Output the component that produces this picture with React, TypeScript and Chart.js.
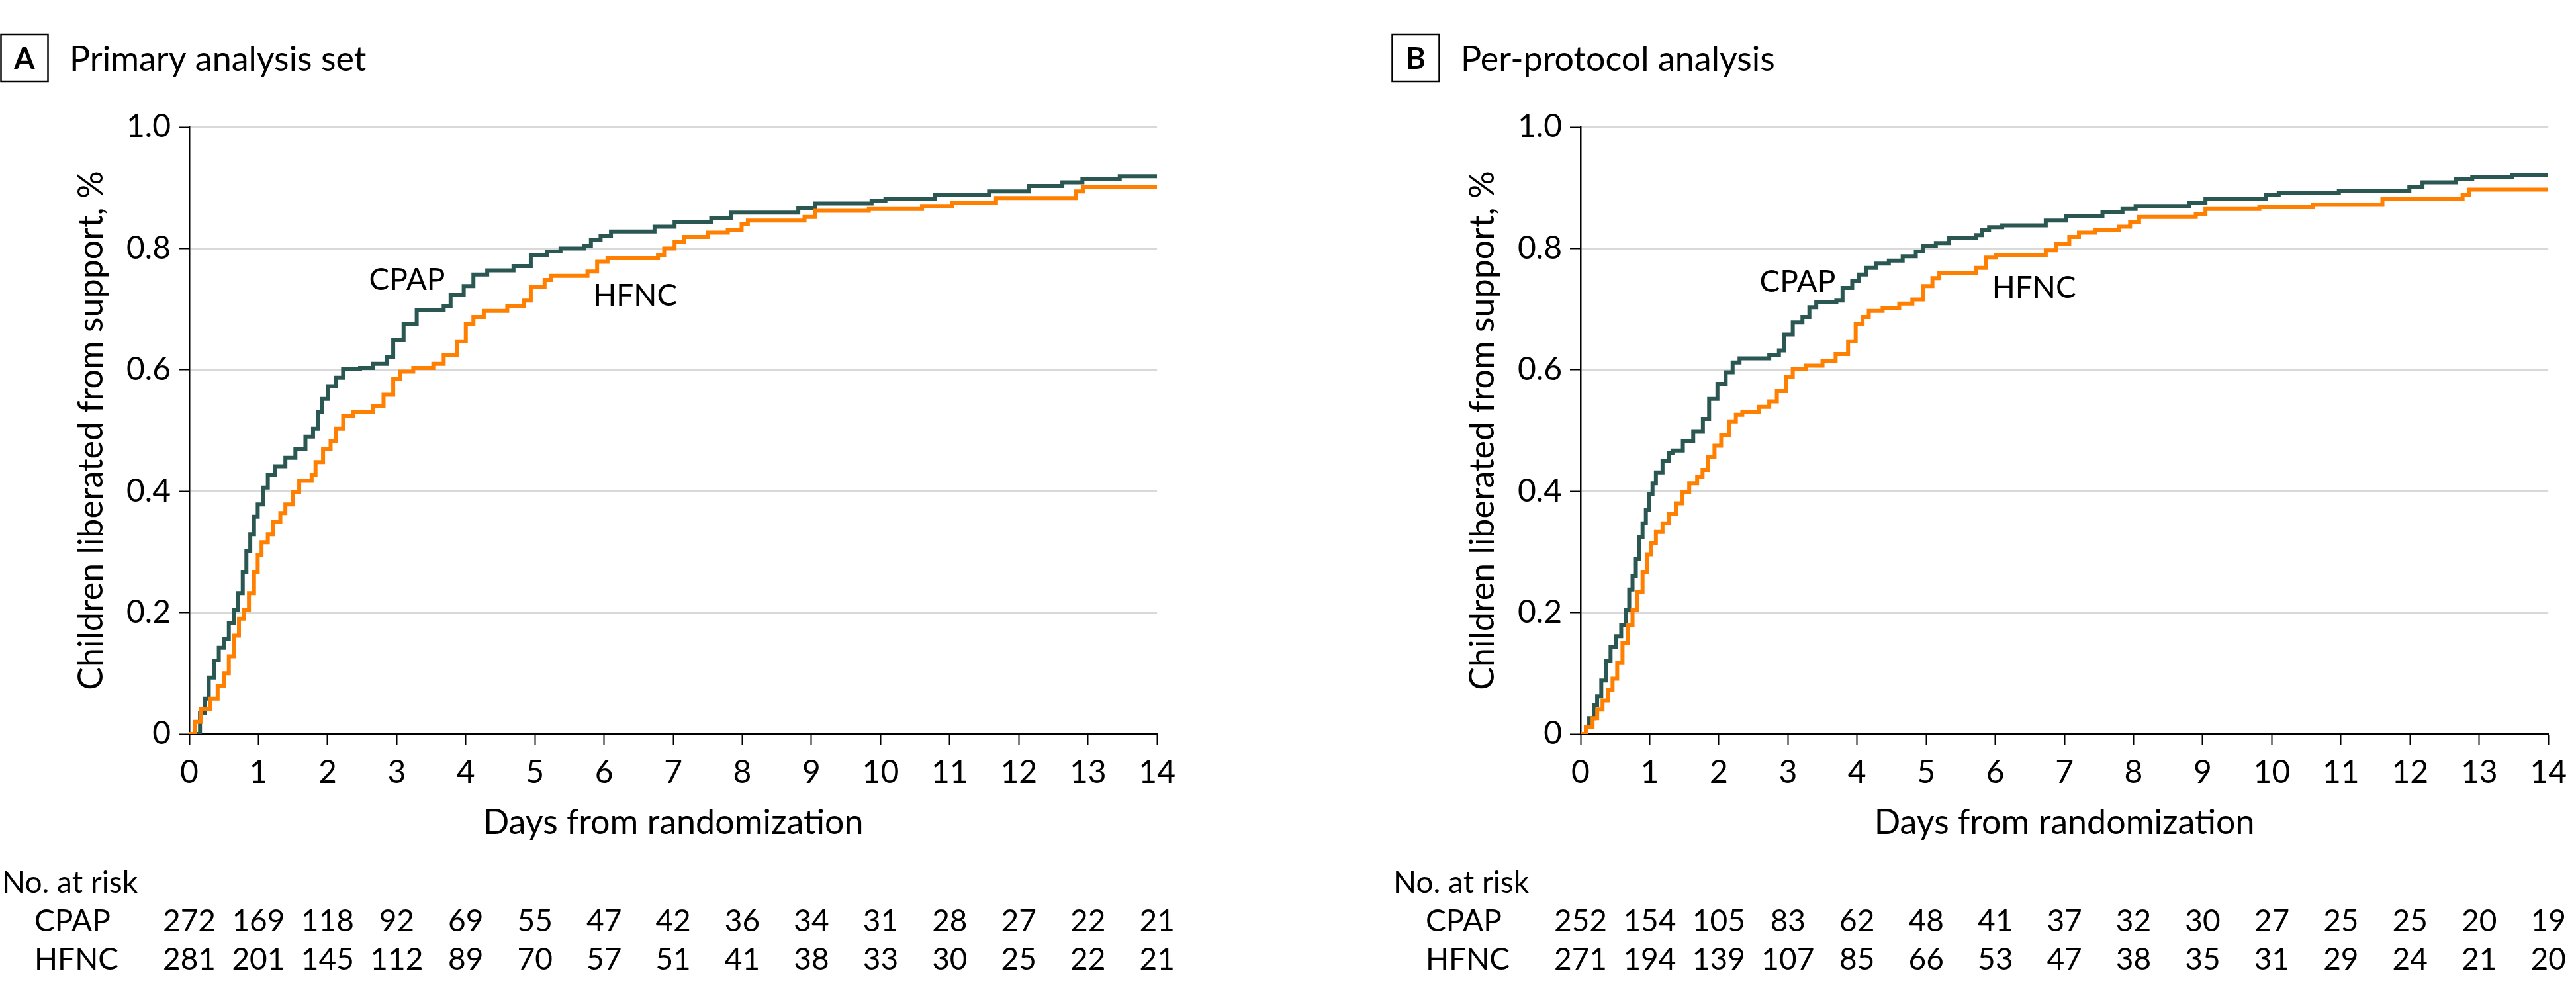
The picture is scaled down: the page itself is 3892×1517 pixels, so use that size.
import React, { useEffect, useRef } from 'react';
import { Chart, registerables } from 'chart.js';

Chart.register(...registerables);

// ---------- Data ----------
const xTicks = [0, 1, 2, 3, 4, 5, 6, 7, 8, 9, 10, 11, 12, 13, 14];
const yTickValues = [0, 0.2, 0.4, 0.6, 0.8, 1.0];

// Panel A – Primary analysis set: [day, proportion liberated]
const cpapA: [number, number][] = [
  [0, 0], [0.155, 0.034], [0.228, 0.058], [0.282, 0.093], [0.355, 0.121], [0.427, 0.142], [0.5, 0.156],
  [0.572, 0.183], [0.645, 0.204], [0.7, 0.232], [0.773, 0.267], [0.826, 0.302], [0.882, 0.329], [0.936, 0.358],
  [0.99, 0.378], [1.063, 0.406], [1.136, 0.427], [1.244, 0.441], [1.39, 0.455], [1.535, 0.469], [1.68, 0.49],
  [1.79, 0.503], [1.86, 0.531], [1.917, 0.552], [2.007, 0.573], [2.116, 0.587], [2.225, 0.601], [2.47, 0.603],
  [2.66, 0.61], [2.86, 0.621], [2.95, 0.65], [3.1, 0.676], [3.29, 0.698], [3.68, 0.705], [3.78, 0.724],
  [3.97, 0.738], [4.11, 0.757], [4.31, 0.764], [4.69, 0.771], [4.94, 0.789], [5.18, 0.795], [5.37, 0.8],
  [5.71, 0.804], [5.81, 0.814], [5.95, 0.821], [6.1, 0.828], [6.73, 0.836], [7.02, 0.843], [7.55, 0.85],
  [7.84, 0.859], [8.81, 0.866], [9.05, 0.874], [9.87, 0.879], [10.07, 0.882], [10.79, 0.888], [11.57, 0.894],
  [12.15, 0.903], [12.63, 0.909], [12.92, 0.914], [13.46, 0.919], [14, 0.919],
];
const hfncA: [number, number][] = [
  [0, 0], [0.082, 0.02], [0.171, 0.041], [0.3, 0.058], [0.41, 0.079], [0.5, 0.1], [0.572, 0.128],
  [0.645, 0.162], [0.718, 0.19], [0.79, 0.204], [0.863, 0.232], [0.936, 0.267], [0.99, 0.295], [1.045, 0.316],
  [1.136, 0.329], [1.208, 0.35], [1.317, 0.364], [1.39, 0.378], [1.5, 0.399], [1.59, 0.417], [1.77, 0.427],
  [1.826, 0.448], [1.935, 0.469], [2.044, 0.482], [2.117, 0.503], [2.226, 0.524], [2.37, 0.531], [2.66, 0.541],
  [2.81, 0.559], [2.95, 0.585], [3.05, 0.597], [3.24, 0.603], [3.53, 0.61], [3.68, 0.624], [3.87, 0.647],
  [4.0, 0.676], [4.11, 0.687], [4.26, 0.697], [4.6, 0.705], [4.84, 0.714], [4.94, 0.736], [5.14, 0.748],
  [5.23, 0.755], [5.76, 0.762], [5.9, 0.778], [6.05, 0.784], [6.78, 0.789], [6.87, 0.8], [7.02, 0.811],
  [7.16, 0.819], [7.5, 0.826], [7.79, 0.831], [7.99, 0.84], [8.08, 0.846], [8.9, 0.852], [9.05, 0.862],
  [9.83, 0.865], [10.6, 0.87], [11.04, 0.875], [11.67, 0.883], [12.83, 0.894], [12.93, 0.901], [14, 0.901],
];

// Panel B – Per-protocol analysis
const cpapB: [number, number][] = [
  [0, 0], [0.077, 0.011], [0.125, 0.026], [0.2, 0.048], [0.24, 0.062], [0.3, 0.088], [0.366, 0.12],
  [0.434, 0.143], [0.511, 0.161], [0.588, 0.179], [0.656, 0.205], [0.704, 0.238], [0.752, 0.26], [0.8, 0.289],
  [0.849, 0.325], [0.897, 0.347], [0.945, 0.369], [0.993, 0.395], [1.041, 0.413], [1.09, 0.431], [1.186, 0.45],
  [1.282, 0.463], [1.33, 0.467], [1.48, 0.482], [1.63, 0.499], [1.77, 0.519], [1.86, 0.552], [1.98, 0.577],
  [2.1, 0.596], [2.2, 0.612], [2.3, 0.619], [2.73, 0.625], [2.87, 0.632], [2.94, 0.658], [3.07, 0.678],
  [3.21, 0.687], [3.31, 0.703], [3.41, 0.711], [3.7, 0.714], [3.79, 0.735], [3.93, 0.746], [4.03, 0.757],
  [4.13, 0.768], [4.27, 0.775], [4.46, 0.78], [4.66, 0.787], [4.85, 0.795], [4.95, 0.804], [5.14, 0.809],
  [5.33, 0.817], [5.72, 0.822], [5.81, 0.83], [5.91, 0.835], [6.1, 0.838], [6.73, 0.846], [7.02, 0.853],
  [7.55, 0.86], [7.84, 0.865], [8.03, 0.87], [8.8, 0.875], [9.04, 0.882], [9.91, 0.888], [10.1, 0.892],
  [10.97, 0.895], [11.99, 0.901], [12.18, 0.909], [12.66, 0.914], [12.9, 0.917], [13.48, 0.921], [14, 0.921],
];
const hfncB: [number, number][] = [
  [0, 0], [0.077, 0.011], [0.174, 0.026], [0.241, 0.04], [0.318, 0.055], [0.395, 0.073], [0.463, 0.091],
  [0.53, 0.117], [0.607, 0.15], [0.685, 0.179], [0.752, 0.205], [0.82, 0.234], [0.897, 0.267], [0.964, 0.296],
  [1.022, 0.314], [1.09, 0.333], [1.186, 0.347], [1.282, 0.362], [1.379, 0.38], [1.475, 0.398], [1.572, 0.413],
  [1.687, 0.424], [1.765, 0.435], [1.842, 0.457], [1.938, 0.475], [2.034, 0.493], [2.15, 0.515], [2.247, 0.526],
  [2.34, 0.53], [2.58, 0.539], [2.73, 0.548], [2.84, 0.565], [2.97, 0.588], [3.07, 0.601], [3.26, 0.607],
  [3.5, 0.614], [3.69, 0.626], [3.87, 0.647], [3.98, 0.676], [4.08, 0.687], [4.17, 0.697], [4.37, 0.702],
  [4.61, 0.709], [4.8, 0.716], [4.95, 0.738], [5.09, 0.751], [5.19, 0.759], [5.72, 0.768], [5.86, 0.785],
  [6.01, 0.789], [6.73, 0.797], [6.88, 0.808], [7.07, 0.819], [7.21, 0.826], [7.45, 0.83], [7.79, 0.836],
  [7.95, 0.844], [8.08, 0.852], [8.9, 0.857], [9.04, 0.865], [9.82, 0.868], [10.59, 0.872], [11.6, 0.881],
  [12.76, 0.888], [12.85, 0.897], [14, 0.897],
];

// Numbers at risk
const riskA_cpap = [272, 169, 118, 92, 69, 55, 47, 42, 36, 34, 31, 28, 27, 22, 21];
const riskA_hfnc = [281, 201, 145, 112, 89, 70, 57, 51, 41, 38, 33, 30, 25, 22, 21];
const riskB_cpap = [252, 154, 105, 83, 62, 48, 41, 37, 32, 30, 27, 25, 25, 20, 19];
const riskB_hfnc = [271, 194, 139, 107, 85, 66, 53, 47, 38, 35, 31, 29, 24, 21, 20];

// Curve label anchors (data coordinates: day at text centre, proportion at baseline)
const labelA = { cpap: [3.15, 0.732], hfnc: [6.45, 0.706] };
const labelB = { cpap: [3.14, 0.728], hfnc: [6.56, 0.719] };

// ---------- Styles ----------
const FONT = 'Lato, "Noto Sans", "DejaVu Sans", sans-serif';
const CPAP_COLOR = '#2b5752';
const HFNC_COLOR = '#ff7f00';
const GRID_COLOR = '#d9d9d9';
const W = 1790;
const H = 1517;

function pts(p: [number, number][]) {
  return p.map(([x, y]) => ({ x, y }));
}

type PanelProps = {
  letter: string;
  title: string;
  cpap: [number, number][];
  hfnc: [number, number][];
  riskC: number[];
  riskH: number[];
  labels: { cpap: number[]; hfnc: number[] };
  left: number;
};

function Panel(props: PanelProps) {
  const ref = useRef<HTMLCanvasElement | null>(null);
  useEffect(() => {
    if (!ref.current) return;
    const annot = {
      id: 'annot',
      afterDraw(chart: any) {
        const ctx = chart.ctx as CanvasRenderingContext2D;
        const xs = chart.scales.x;
        const ys = chart.scales.y;
        const area = chart.chartArea;
        ctx.save();
        ctx.fillStyle = '#000';
        ctx.strokeStyle = '#000';
        // Header box + letter
        ctx.lineWidth = 2.5;
        ctx.strokeRect(1.5, 52, 71, 71);
        ctx.font = `bold 45px ${FONT}`;
        ctx.textAlign = 'center';
        ctx.textBaseline = 'alphabetic';
        ctx.fillText(props.letter, 37, 104);
        ctx.font = `52px ${FONT}`;
        ctx.textAlign = 'left';
        ctx.fillText(props.title, 105, 107);
        // Y axis title
        ctx.save();
        ctx.translate(155, (area.top + area.bottom) / 2);
        ctx.rotate(-Math.PI / 2);
        ctx.textAlign = 'center';
        ctx.font = `52px ${FONT}`;
        ctx.fillText('Children liberated from support, %', 0, 0);
        ctx.restore();
        // X axis title
        ctx.textAlign = 'center';
        ctx.font = `52px ${FONT}`;
        ctx.fillText('Days from randomization', (area.left + area.right) / 2, 1260);
        // Curve labels
        ctx.font = `46px ${FONT}`;
        ctx.fillText('CPAP', xs.getPixelForValue(props.labels.cpap[0]), ys.getPixelForValue(props.labels.cpap[1]));
        ctx.fillText('HFNC', xs.getPixelForValue(props.labels.hfnc[0]), ys.getPixelForValue(props.labels.hfnc[1]));
        // Risk table
        ctx.textAlign = 'left';
        ctx.fillText('No. at risk', 3, 1349);
        ctx.fillText('CPAP', 52, 1407);
        ctx.fillText('HFNC', 52, 1465);
        ctx.textAlign = 'center';
        xTicks.forEach((d, i) => {
          const px = xs.getPixelForValue(d);
          ctx.fillText(String(props.riskC[i]), px, 1407);
          ctx.fillText(String(props.riskH[i]), px, 1465);
        });
        ctx.restore();
      },
    };
    const chart = new Chart(ref.current, {
      type: 'line',
      data: {
        datasets: [
          {
            label: 'HFNC',
            data: pts(props.hfnc),
            borderColor: HFNC_COLOR,
            borderWidth: 6,
            stepped: true,
            pointRadius: 0,
            fill: false,
          },
          {
            label: 'CPAP',
            data: pts(props.cpap),
            borderColor: CPAP_COLOR,
            borderWidth: 6,
            stepped: true,
            pointRadius: 0,
            fill: false,
          },
        ],
      },
      options: {
        animation: false,
        responsive: false,
        devicePixelRatio: 1,
        layout: { padding: { top: 192, left: 0, right: W - 1761, bottom: 0 } },
        plugins: { legend: { display: false }, tooltip: { enabled: false } },
        scales: {
          x: {
            type: 'linear',
            min: 0,
            max: 14,
            afterFit: (s: any) => {
              s.height = H - 1109;
            },
            afterBuildTicks: (s: any) => {
              s.ticks = xTicks.map((v) => ({ value: v }));
            },
            ticks: {
              font: { size: 48, family: FONT },
              color: '#000',
              padding: 14,
              maxRotation: 0,
              autoSkip: false,
              callback: (v: any) => String(v),
            },
            grid: { drawOnChartArea: false, drawTicks: true, tickLength: 16, tickColor: '#000', tickWidth: 2 },
            border: { color: '#000', width: 2.5 },
          },
          y: {
            min: 0,
            max: 1,
            afterFit: (s: any) => {
              s.width = 286;
            },
            afterBuildTicks: (s: any) => {
              s.ticks = yTickValues.map((v) => ({ value: v }));
            },
            ticks: {
              font: { size: 48, family: FONT },
              color: '#000',
              padding: 12,
              callback: (v: any) => (v === 0 ? '0' : Number(v).toFixed(1)),
            },
            grid: {
              color: (c: any) => (c.tick && c.tick.value === 0 ? 'rgba(0,0,0,0)' : GRID_COLOR),
              lineWidth: 3,
              drawTicks: true,
              tickLength: 16,
              tickColor: '#000',
              tickWidth: 2,
            },
            border: { color: '#000', width: 2.5 },
          },
        },
      },
      plugins: [annot],
    } as any);
    return () => chart.destroy();
  }, []);
  return (
    <div style={{ position: 'absolute', left: props.left, top: 0, width: W, height: H }}>
      <canvas ref={ref} width={W} height={H} style={{ width: W, height: H, display: 'block' }} />
    </div>
  );
}

export default function App() {
  return (
    <div
      style={{
        position: 'fixed',
        left: 0,
        top: 0,
        width: 3892,
        height: 1517,
        background: '#fff',
        overflow: 'hidden',
      }}
    >
      <Panel
        letter="A"
        title="Primary analysis set"
        cpap={cpapA}
        hfnc={hfncA}
        riskC={riskA_cpap}
        riskH={riskA_hfnc}
        labels={labelA}
        left={0}
      />
      <Panel
        letter="B"
        title="Per-protocol analysis"
        cpap={cpapB}
        hfnc={hfncB}
        riskC={riskB_cpap}
        riskH={riskB_hfnc}
        labels={labelB}
        left={2102}
      />
    </div>
  );
}
